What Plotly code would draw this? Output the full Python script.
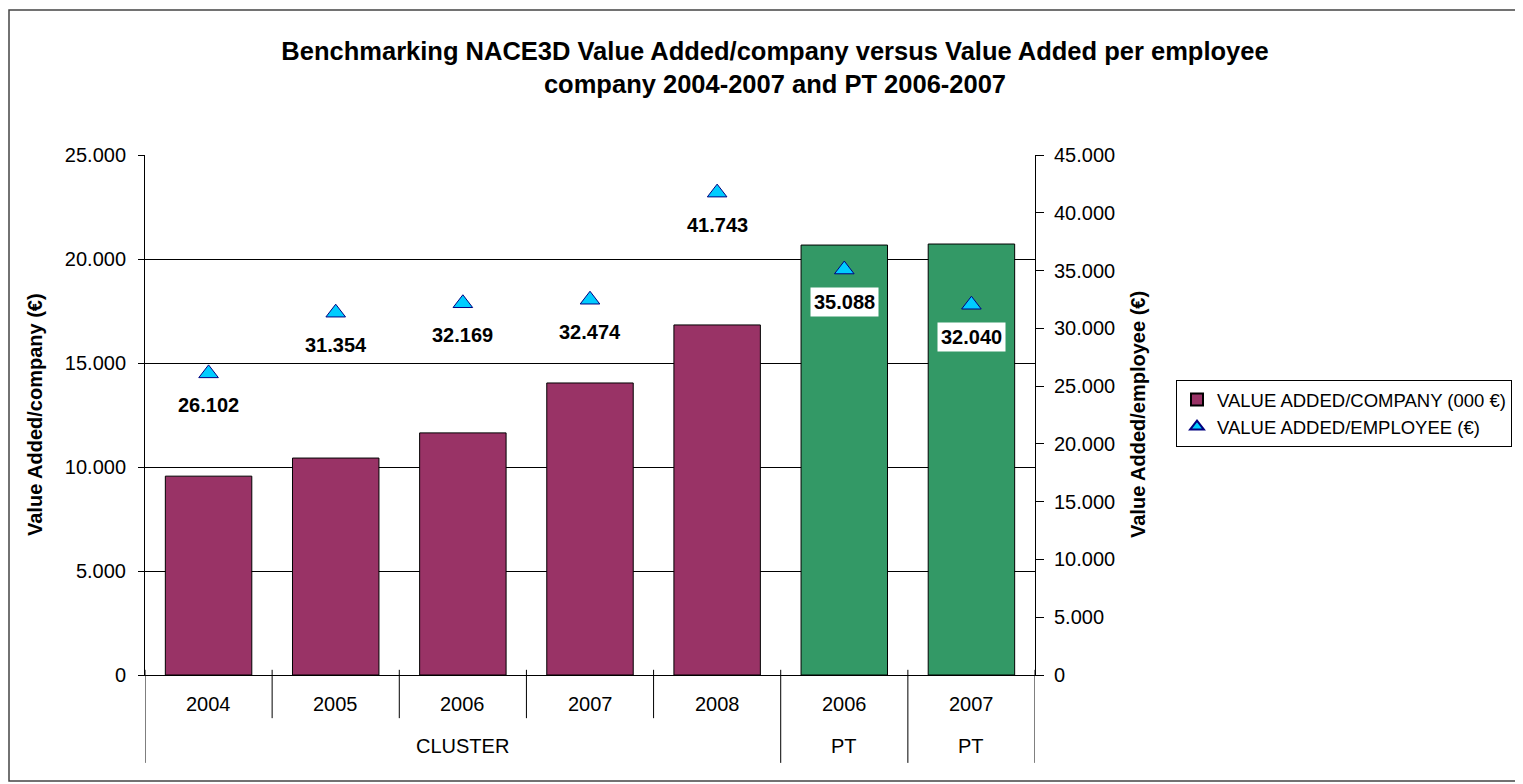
import plotly.graph_objects as go

years = ["2004", "2005", "2006", "2007", "2008", "2006", "2007"]
groups = ["CLUSTER", "CLUSTER", "CLUSTER", "CLUSTER", "CLUSTER", "PT", "PT"]
va_company = [9560, 10430, 11640, 14040, 16830, 20670, 20720]
va_employee = [26102, 31354, 32169, 32474, 41743, 35088, 32040]
emp_labels = ["26.102", "31.354", "32.169", "32.474", "41.743", "35.088", "32.040"]
bar_colors = ["#993366"] * 5 + ["#339966"] * 2

FONT = "Liberation Sans"
x = list(range(len(years)))

fig = go.Figure()
# legend proxy for bars (square)
fig.add_trace(go.Scatter(
    x=[None], y=[None], mode="markers", name="VALUE ADDED/COMPANY (000 €)",
    marker=dict(symbol="square", size=11, color="#993366", line=dict(color="#000000", width=1)),
))
fig.add_trace(go.Bar(
    x=x, y=va_company, name="VALUE ADDED/COMPANY (000 €)", showlegend=False,
    marker=dict(color=bar_colors, line=dict(color="#000000", width=1)),
    width=0.68, yaxis="y",
))
fig.add_trace(go.Scatter(
    x=x, y=va_employee, name="VALUE ADDED/EMPLOYEE (€)", mode="markers",
    marker=dict(symbol="triangle-up", size=17, color="#00CCFF",
                line=dict(color="#000080", width=1)),
    yaxis="y2",
))

annotations = []
for xi, v, t in zip(x, va_employee, emp_labels):
    annotations.append(dict(
        x=xi, y=v, xref="x", yref="y2", text="<b>%s</b>" % t, showarrow=False,
        yshift=-32, bgcolor="#FFFFFF", borderpad=3,
        font=dict(family=FONT, size=20, color="#000000"),
    ))

# year labels and group labels
for xi, yr in zip(x, years):
    annotations.append(dict(
        x=xi, y=-0.056, xref="x", yref="paper", text=yr, showarrow=False,
        font=dict(family=FONT, size=20, color="#000000"), yanchor="middle",
    ))
group_spans = []
start = 0
for i in range(1, len(groups) + 1):
    if i == len(groups) or groups[i] != groups[start] or groups[start] == "PT":
        group_spans.append((start, i - 1, groups[start]))
        start = i
for s, e, g in group_spans:
    annotations.append(dict(
        x=(s + e) / 2, y=-0.137, xref="x", yref="paper", text=g, showarrow=False,
        font=dict(family=FONT, size=20, color="#000000"), yanchor="middle",
    ))

# axis titles
annotations.append(dict(
    x=(35 - 145) / 890, y=0.5, xref="paper", yref="paper", showarrow=False,
    text="<b>Value Added/company (€)</b>", textangle=-90,
    font=dict(family=FONT, size=20, color="#000000"), xanchor="center", yanchor="middle",
))
annotations.append(dict(
    x=(1138 - 145) / 890, y=0.5, xref="paper", yref="paper", showarrow=False,
    text="<b>Value Added/employee (€)</b>", textangle=-90,
    font=dict(family=FONT, size=20, color="#000000"), xanchor="center", yanchor="middle",
))

shapes = []
# dividers between categories
for i in range(len(years) + 1):
    xb = i - 0.5
    is_group_edge = (i == 0 or i == len(years) or
                     (0 < i < len(years) and (groups[i] != groups[i - 1] or groups[i] == "PT")))
    shapes.append(dict(
        type="line", xref="x", yref="paper", x0=xb, x1=xb,
        y0=0.01, y1=-0.169 if is_group_edge else -0.083,
        line=dict(color="#000000", width=1),
    ))
# outer chart border
shapes.append(dict(
    type="rect", xref="paper", yref="paper",
    x0=(9 - 145) / 890, x1=(1540 - 145) / 890,
    y0=(675 - 781) / 520, y1=(675 - 10) / 520,
    line=dict(color="#444444", width=1.5), fillcolor="rgba(0,0,0,0)", layer="below",
))

fig.update_layout(
    width=1523, height=784,
    margin=dict(l=137, r=496, t=147, b=117),
    paper_bgcolor="#FFFFFF", plot_bgcolor="#FFFFFF",
    separators=",.",
    font=dict(family=FONT, size=20, color="#000000"),
    title=dict(
        text="<b>Benchmarking NACE3D Value Added/company versus Value Added per employee<br>company 2004-2007 and PT 2006-2007</b>",
        x=767 / 1523, xanchor="center", y=1 - 52 / 784, yanchor="middle",
        font=dict(family=FONT, size=25.5, color="#000000"),
    ),
    xaxis=dict(
        range=[-0.5, len(years) - 0.5], showticklabels=False, ticks="",
        showgrid=False, zeroline=False, showline=True, linecolor="#000000", linewidth=1,
    ),
    yaxis=dict(
        range=[0, 25000], dtick=5000, tickformat=",d",
        showgrid=True, gridcolor="#000000", gridwidth=1,
        ticks="outside", ticklen=6, tickcolor="#000000", ticklabelstandoff=8,
        showline=True, linecolor="#000000", linewidth=1, zeroline=False,
        tickfont=dict(family=FONT, size=20),
    ),
    yaxis2=dict(
        range=[0, 45000], dtick=5000, tickformat=",d", overlaying="y", side="right",
        showgrid=False, ticks="outside", ticklen=8, tickcolor="#000000", ticklabelstandoff=6,
        showline=True, linecolor="#000000", linewidth=1, zeroline=False,
        tickfont=dict(family=FONT, size=20),
    ),
    legend=dict(
        x=(1176 - 145) / 890, y=(675 - 380) / 520, xanchor="left", yanchor="top",
        bordercolor="#000000", borderwidth=1, bgcolor="#FFFFFF",
        font=dict(family=FONT, size=18.5), tracegroupgap=2, itemsizing="constant",
    ),
    bargap=0.32,
    annotations=annotations,
    shapes=shapes,
    showlegend=True,
)

fig.write_html("out.html")
